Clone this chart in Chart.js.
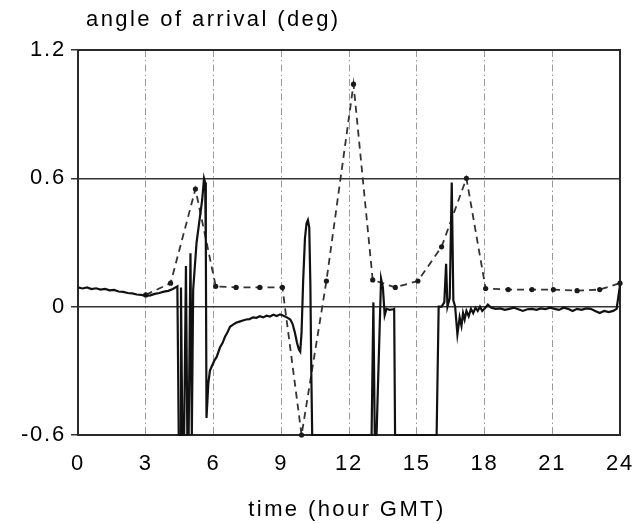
<!DOCTYPE html>
<html>
<head>
<meta charset="utf-8">
<script src="https://cdn.jsdelivr.net/npm/chart.js@4.4.0/dist/chart.umd.min.js"></script>
<style>
  html, body { margin: 0; padding: 0; background: #fff; }
  #wrap { width: 640px; height: 524px; }
</style>
</head>
<body>
<div id="wrap"><canvas id="aoa" width="640" height="524"></canvas></div>
<script>
const yTitle = 'angle of arrival (deg)';
const xTitle = 'time (hour GMT)';
const xTicks = [0, 3, 6, 9, 12, 15, 18, 21, 24];
const yTicks = [-0.6, 0, 0.6, 1.2];

// measured (solid trace)
const measuredTime = [
  0.0, 0.2, 0.4, 0.6, 0.8, 1.0, 1.2, 1.4, 1.6, 1.8, 2.0, 2.2, 2.4, 2.6, 2.8, 3.0, 3.2, 3.4, 3.6, 3.8, 4.0, 4.2, 4.4,
  4.46, 4.52, 4.56, 4.62, 4.7, 4.78, 4.84, 4.9, 4.98, 5.04, 5.1, 5.25, 5.4, 5.5, 5.58, 5.63, 5.66, 5.69,
  5.77, 5.84, 5.92, 6.05, 6.14, 6.29, 6.4, 6.51, 6.62, 6.73, 6.85, 7.0, 7.15, 7.3, 7.45, 7.6, 7.75, 7.9,
  8.05, 8.2, 8.35, 8.5, 8.65, 8.8, 8.95, 9.1, 9.25, 9.4, 9.5, 9.6, 9.7, 9.78, 9.84, 9.9, 9.97, 10.05,
  10.12, 10.18, 10.24, 10.29, 10.33, 10.37, 13.0, 13.08, 13.14, 13.22, 13.42, 13.5, 13.58, 13.66, 13.8,
  13.95, 14.0, 14.04, 15.88, 15.97, 16.1, 16.22, 16.3, 16.36, 16.46, 16.55, 16.62, 16.7, 16.8, 16.9,
  16.98, 17.05, 17.12, 17.2, 17.3, 17.4, 17.5, 17.6, 17.7, 17.8, 17.9, 18.0, 18.15, 18.3, 18.5, 18.7,
  18.9, 19.1, 19.3, 19.5, 19.7, 19.9, 20.1, 20.3, 20.5, 20.7, 20.9, 21.1, 21.3, 21.5, 21.7, 21.9, 22.1,
  22.3, 22.5, 22.7, 22.9, 23.1, 23.3, 23.5, 23.7, 23.85, 24.0
];
const measuredAngle = [
  0.09, 0.085, 0.09, 0.082, 0.086, 0.08, 0.083, 0.076, 0.078, 0.071, 0.069, 0.064, 0.062, 0.057, 0.055, 0.05, 0.053, 0.06, 0.064, 0.07, 0.074, 0.083, 0.095,
  -0.6, -0.6, 0.09, -0.6, -0.6, 0.19, -0.6, -0.6, 0.25, -0.6, 0.08, 0.3, 0.42, 0.5, 0.6, 0.58, 0.3, -0.52,
  -0.36, -0.3, -0.28, -0.25, -0.235, -0.19, -0.17, -0.14, -0.12, -0.094, -0.085, -0.075, -0.07, -0.065, -0.06, -0.058, -0.05, -0.052,
  -0.045, -0.05, -0.042, -0.046, -0.038, -0.044, -0.036, -0.042, -0.05, -0.06, -0.08, -0.12, -0.17, -0.2, -0.21, -0.12, 0.12, 0.32,
  0.39, 0.405, 0.37, 0.1, -0.3, -0.6, -0.6, 0.02, -0.6, -0.6, 0.13, 0.09, -0.04, -0.01, -0.015,
  -0.012, -0.01, -0.6, -0.6, 0.0, 0.0, 0.02, 0.2, 0.0, 0.04, 0.58, 0.03, 0.0, -0.13, -0.05,
  -0.09, -0.03, -0.06, -0.02, -0.045, -0.01, -0.03, -0.005, -0.02, 0.0, -0.02, -0.01, 0.01, -0.005, -0.01, -0.008,
  -0.015, -0.01, -0.005, -0.012, -0.02, -0.012, -0.01, -0.015, -0.008, -0.012, -0.005, -0.01, -0.015, -0.005, -0.01, -0.02, -0.01,
  -0.015, -0.008, -0.01, -0.02, -0.03, -0.02, -0.025, -0.02, -0.01, 0.1
];

// hourly values (dashed trace with markers)
const hourlyTime = [3, 4.1, 5.2, 6.1, 7.0, 8.05, 9.05, 9.9, 11.0, 12.2, 13.05, 14.05, 15.05, 16.1, 17.2, 18.05, 19.05, 20.1, 21.05, 22.1, 23.1, 24];
const hourlyAngle = [0.055, 0.11, 0.55, 0.095, 0.09, 0.09, 0.09, -0.6, 0.12, 1.04, 0.125, 0.09, 0.12, 0.28, 0.6, 0.085, 0.08, 0.08, 0.08, 0.075, 0.08, 0.11];

const toXY = (xs, ys) => xs.map((x, i) => ({ x, y: ys[i] }));
const FONT = '"Liberation Sans", Arial, Helvetica, sans-serif';

const framePlugin = {
  id: 'frame',
  beforeUpdate(chart) { chart.ctx.letterSpacing = '1.8px'; },
  beforeDatasetsDraw(chart) {
    const { ctx, chartArea: a } = chart;
    ctx.save();
    ctx.strokeStyle = '#2a2a2a';
    ctx.lineWidth = 2;
    ctx.strokeRect(a.left, a.top, a.right - a.left, a.bottom - a.top);
    ctx.restore();
  },
  afterDraw(chart) {
    const { ctx, chartArea: a } = chart;
    ctx.save();
    ctx.letterSpacing = '2.4px';
    ctx.fillStyle = '#000';
    ctx.font = '22px ' + FONT;
    ctx.textBaseline = 'middle';
    ctx.textAlign = 'left';
    ctx.fillText(yTitle, a.left + 8, 20);
    ctx.textAlign = 'center';
    ctx.fillText(xTitle, (a.left + a.right) / 2 - 2, 510);
    ctx.restore();
  }
};

new Chart(document.getElementById('aoa'), {
  type: 'line',
  data: {
    datasets: [
      {
        label: 'measured',
        data: toXY(measuredTime, measuredAngle),
        borderColor: '#111',
        borderWidth: 2.2,
        pointRadius: 0,
        tension: 0,
        clip: 4
      },
      {
        label: 'hourly',
        data: toXY(hourlyTime, hourlyAngle),
        borderColor: '#333',
        borderWidth: 1.8,
        borderDash: [7, 5],
        pointRadius: 2.6,
        pointBackgroundColor: '#1a1a1a',
        pointBorderColor: '#1a1a1a',
        pointBorderWidth: 0,
        tension: 0,
        clip: 4
      }
    ]
  },
  options: {
    responsive: false,
    animation: false,
    events: [],
    layout: { padding: { top: 50, right: 20, bottom: 0, left: 0 } },
    plugins: { legend: { display: false }, tooltip: { enabled: false }, title: { display: false } },
    scales: {
      x: {
        type: 'linear',
        min: 0, max: 24,
        afterBuildTicks: (s) => { s.ticks = xTicks.map(v => ({ value: v })); },
        afterFit: (s) => { s.height = 89; s.paddingLeft = 0; s.paddingRight = 0; },
        grid: {
          color: (c) => (c.tick.value === 0 || c.tick.value === 24) ? 'rgba(0,0,0,0)' : '#9a9a9a',
          lineWidth: 1,
          drawTicks: false
        },
        border: { display: false, dash: [7, 3, 1.5, 3] },
        ticks: {
          padding: 16,
          color: '#000',
          font: { family: FONT, size: 22 },
          maxRotation: 0,
          callback: (v) => String(v)
        }
      },
      y: {
        min: -0.6, max: 1.2,
        afterBuildTicks: (s) => { s.ticks = yTicks.map(v => ({ value: v })); },
        afterFit: (s) => { s.width = 78; s.paddingTop = 0; s.paddingBottom = 0; },
        grid: {
          color: '#333',
          lineWidth: 1.5,
          tickColor: '#333',
          tickLength: 7
        },
        border: { display: false },
        ticks: {
          padding: 5,
          color: '#000',
          font: { family: FONT, size: 22 },
          callback: (v) => (v === 0 ? '0' : String(v))
        }
      }
    }
  },
  plugins: [framePlugin]
});
</script>
</body>
</html>
